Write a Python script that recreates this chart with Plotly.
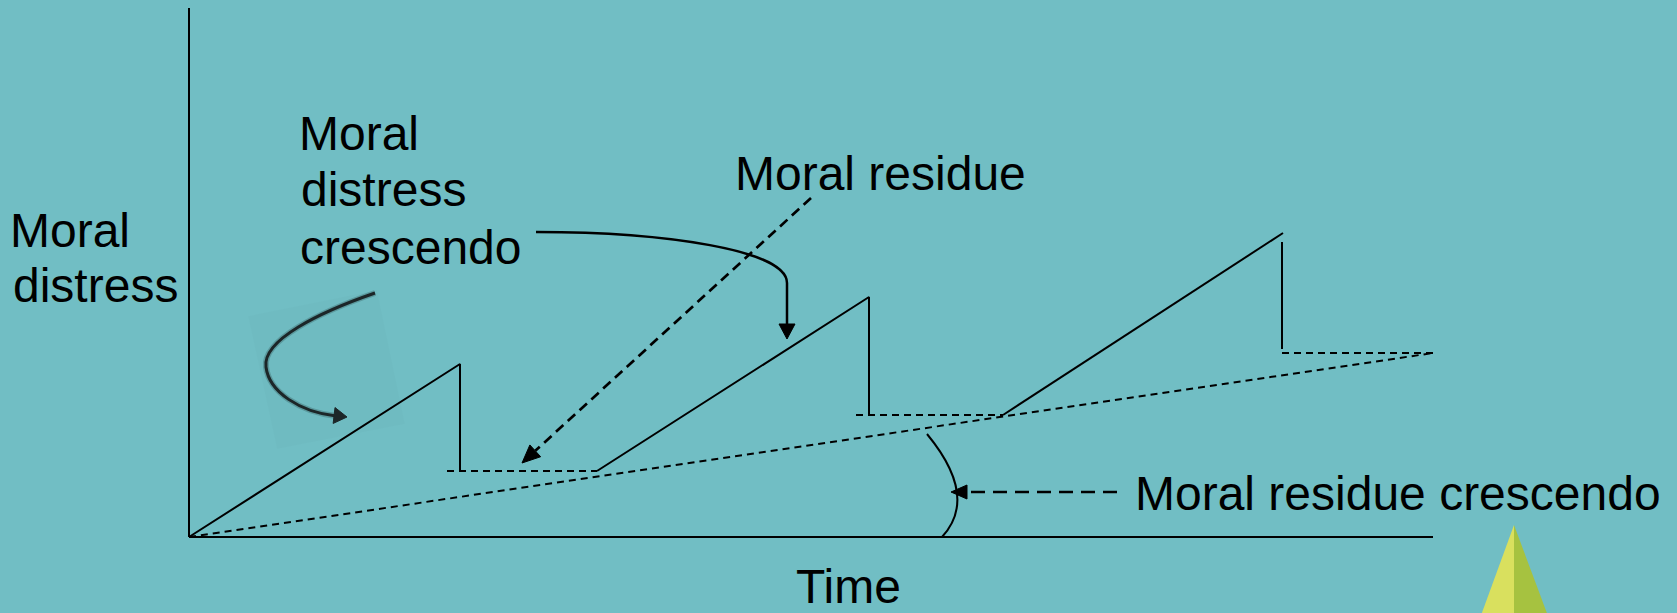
import plotly.graph_objects as go

# ---------------- data (time units, distress units) ----------------
# solid sawtooth: moral distress rising then dropping
distress_t = [0, 2.71, 2.71, None, 4.08, 6.80, 6.80, None, 8.14, 10.94, None, 10.93, 10.93]
distress_d = [0, 1.73, 0.66, None, 0.66, 2.40, 1.22, None, 1.22, 3.04, None, 2.95, 1.88]
# dashed residue levels
residue_t = [2.58, 4.08, None, 6.67, 8.14, None, 10.93, 12.44]
residue_d = [0.66, 0.66, None, 1.22, 1.22, None, 1.84, 1.84]
# dashed moral residue crescendo line
crescendo_t = [0, 12.44]
crescendo_d = [0, 1.84]
# axes
axis_t = [0, 0, None, 0, 12.44]
axis_d = [5.29, 0, None, 0, 0]

BG = "#71BEC4"
FONT = "Liberation Sans, Arial, sans-serif"


def X(px):
    return (px - 189) / 100.0


def Y(py):
    return (537 - py) / 100.0


def pt(px, py):
    return f"{X(px):.4f},{Y(py):.4f}"


def arrowhead(tip, frm, length, half):
    tx, ty = tip
    fx, fy = frm
    dx, dy = tx - fx, ty - fy
    n = (dx * dx + dy * dy) ** 0.5
    ux, uy = dx / n, dy / n
    bx, by = tx - ux * length, ty - uy * length
    px_, py_ = -uy, ux
    p1 = (bx + px_ * half, by + py_ * half)
    p2 = (bx - px_ * half, by - py_ * half)
    return f"M {pt(tx, ty)} L {pt(*p1)} L {pt(*p2)} Z", (bx, by)


fig = go.Figure()

fig.add_trace(go.Scatter(x=axis_t, y=axis_d, mode="lines",
                         line=dict(color="black", width=2), hoverinfo="skip"))
fig.add_trace(go.Scatter(x=distress_t, y=distress_d, mode="lines",
                         line=dict(color="black", width=2), hoverinfo="skip"))
fig.add_trace(go.Scatter(x=residue_t, y=residue_d, mode="lines",
                         line=dict(color="black", width=2, dash="7px,5px"), hoverinfo="skip"))
fig.add_trace(go.Scatter(x=crescendo_t, y=crescendo_d, mode="lines",
                         line=dict(color="black", width=2, dash="7px,5px"), hoverinfo="skip"))

shapes = []

# faint rotated square behind the left curved arrow
shapes.append(dict(type="path", xref="x", yref="y",
                   path=f"M {pt(248,316)} L {pt(377,290)} L {pt(405,424)} L {pt(277,449)} Z",
                   fillcolor="rgba(0,0,0,0.01)", line=dict(width=0), layer="below"))
# left curved arrow (blurry look)
left_path = f"M {pt(375,293)} C {pt(320,312)} {pt(262,340)} {pt(266,367)} C {pt(269,392)} {pt(300,412)} {pt(336,416)}"
shapes.append(dict(type="path", xref="x", yref="y", path=left_path,
                   line=dict(color="rgba(20,30,32,0.22)", width=6)))
shapes.append(dict(type="path", xref="x", yref="y", path=left_path,
                   line=dict(color="#1c2628", width=3)))
ah, _ = arrowhead((347, 417), (330, 415), 13, 8)
shapes.append(dict(type="path", xref="x", yref="y", path=ah,
                   fillcolor="#1c2628", line=dict(color="#1c2628", width=1)))

# curved arrow from "Moral distress crescendo" to second ramp
shapes.append(dict(type="path", xref="x", yref="y",
                   path=f"M {pt(536,232)} C {pt(665,232)} {pt(787,250)} {pt(787,283)} L {pt(787,326)}",
                   line=dict(color="black", width=2.5)))
ah, _ = arrowhead((787, 339), (787, 300), 15, 8)
shapes.append(dict(type="path", xref="x", yref="y", path=ah,
                   fillcolor="black", line=dict(color="black", width=1)))

# dashed arrow from "Moral residue"
ah, base = arrowhead((522, 463), (811, 198), 18, 8)
shapes.append(dict(type="line", xref="x", yref="y", x0=X(811), y0=Y(198), x1=X(base[0]), y1=Y(base[1]),
                   line=dict(color="black", width=2.7, dash="10px,6px")))
shapes.append(dict(type="path", xref="x", yref="y", path=ah,
                   fillcolor="black", line=dict(color="black", width=1)))

# arc marking the residue crescendo angle
shapes.append(dict(type="path", xref="x", yref="y",
                   path=f"M {pt(927,434)} Q {pt(979,497)} {pt(942,537)}",
                   line=dict(color="black", width=2)))
# dashed arrow from "Moral residue crescendo"
ah, base = arrowhead((951, 492), (1117, 492), 16, 7)
shapes.append(dict(type="line", xref="x", yref="y", x0=X(1117), y0=Y(492), x1=X(base[0]), y1=Y(492),
                   line=dict(color="black", width=2.4, dash="14px,8px")))
shapes.append(dict(type="path", xref="x", yref="y", path=ah,
                   fillcolor="black", line=dict(color="black", width=1)))

# yellow-green pyramid at bottom right
shapes.append(dict(type="path", xref="x", yref="y",
                   path=f"M {pt(1514,525)} L {pt(1472,640)} L {pt(1514,640)} Z",
                   fillcolor="#D9E05E", line=dict(width=0)))
shapes.append(dict(type="path", xref="x", yref="y",
                   path=f"M {pt(1514,525)} L {pt(1557,640)} L {pt(1514,640)} Z",
                   fillcolor="#A6C240", line=dict(width=0)))

# ---------------- labels ----------------
labels = [
    ("Moral", 7.5, 247),
    ("distress", 11.4, 302),
    ("Moral", 296.5, 150),
    ("distress", 299.4, 206),
    ("crescendo", 298, 264),
    ("Moral residue", 732.5, 190),
    ("Moral residue crescendo", 1132.5, 510),
    ("Time", 794, 603),
]
annotations = []
for txt, lx, base_y in labels:
    annotations.append(dict(text=txt, x=X(lx), y=Y(base_y - 16.5), xref="x", yref="y",
                            xanchor="left", yanchor="middle", showarrow=False,
                            font=dict(family=FONT, size=48, color="black")))

fig.update_layout(
    width=1677, height=613,
    margin=dict(l=0, r=0, t=0, b=0),
    paper_bgcolor=BG, plot_bgcolor=BG,
    showlegend=False,
    xaxis=dict(range=[X(0), X(1677)], visible=False, fixedrange=True),
    yaxis=dict(range=[Y(613), Y(0)], visible=False, fixedrange=True),
    shapes=shapes,
    annotations=annotations,
)

fig.write_html("out.html", config={"displayModeBar": False},
               post_script="document.body.style.margin='0';document.body.style.overflow='hidden';")
